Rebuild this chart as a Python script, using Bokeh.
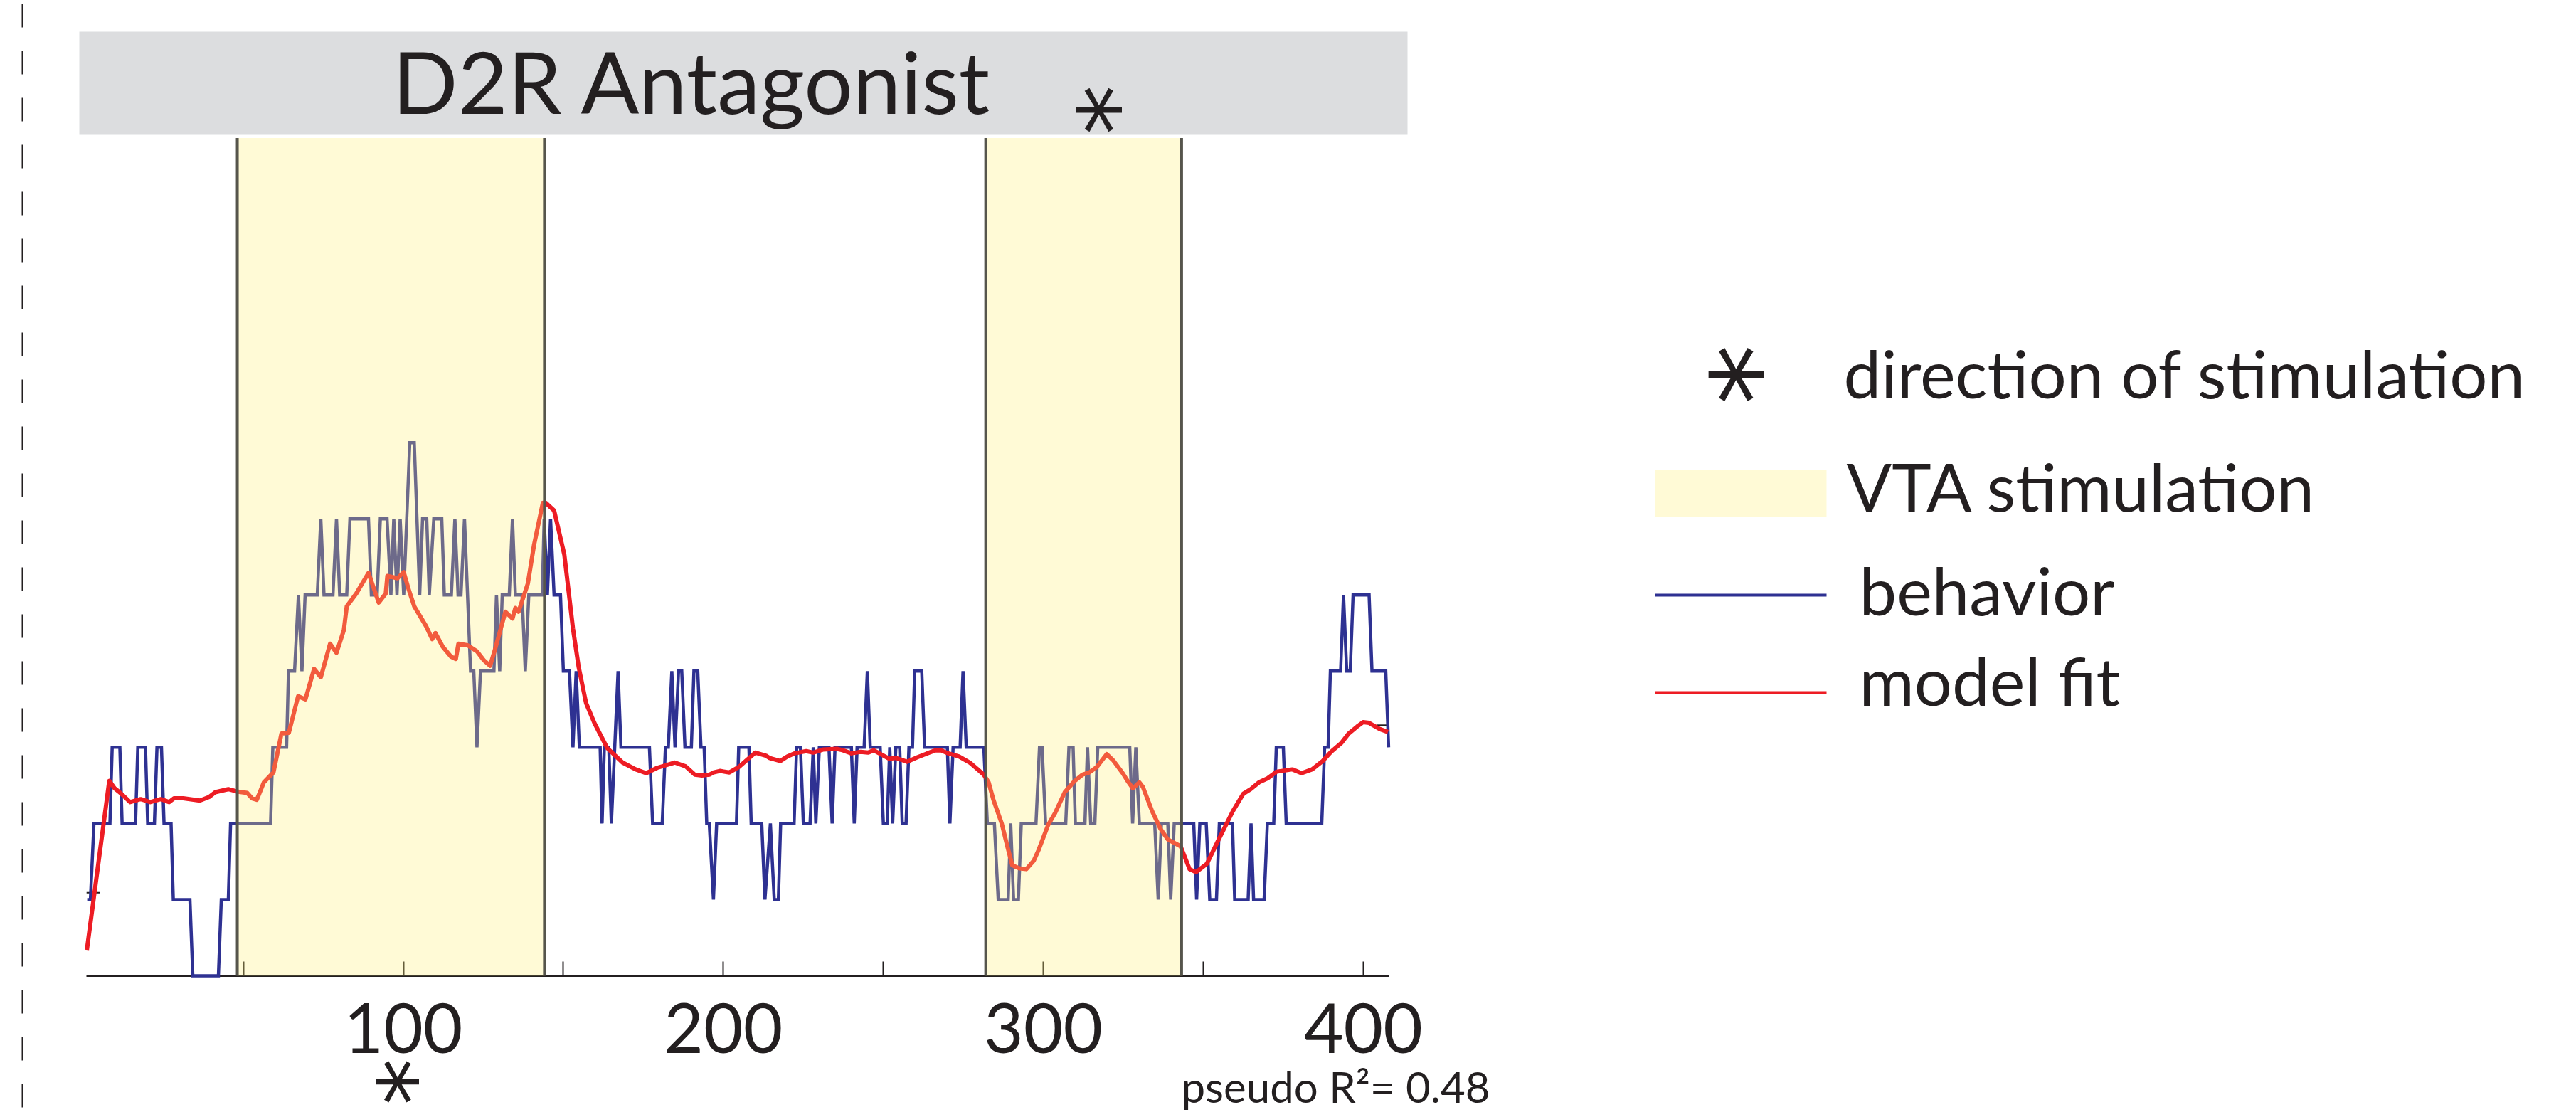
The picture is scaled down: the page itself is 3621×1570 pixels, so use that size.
import math
from bokeh.plotting import figure
from bokeh.models import Range1d, FixedTicker, Label, LinearAxis, CustomJSTickFormatter
from bokeh.embed import file_html
from bokeh.resources import INLINE

# ---------------- data ----------------
TITLE = "D2R Antagonist"

BEHAVIOR_X = [1.2, 2.2, 3.3, 8.3, 9.0, 11.4, 12.1, 16.3, 17.0, 19.4, 20.1, 22.2, 23.0, 24.4, 25.2, 27.4,
              28.1, 33.3, 34.2, 42.2, 43.1, 45.3, 46.0, 58.5, 59.2, 63.5, 64.1, 66.0, 67.2, 68.3, 69.3,
              73.1, 74.2, 75.2, 78.0, 79.1, 80.1, 82.3, 83.3, 89.1, 90.0, 91.8, 92.8, 94.9, 96.1, 97.0,
              98.0, 99.0, 100.1, 102.0, 103.4, 105.1, 106.0, 107.3, 108.1, 109.5, 112.0, 112.8, 115.0,
              116.1, 117.1, 118.0, 119.1, 121.0, 122.0, 123.0, 124.1, 128.3, 129.1, 130.1, 130.9, 133.1,
              134.1, 135.0, 137.1, 138.1, 139.2, 143.4, 144.0, 145.0, 146.0, 147.1, 149.1, 150.0, 151.9,
              153.0, 154.0, 155.0, 161.5, 162.1, 162.8, 164.2, 165.0, 167.1, 168.0, 176.9, 177.9, 180.9,
              181.9, 182.8, 183.9, 184.9, 186.0, 187.0, 188.0, 190.0, 190.8, 192.0, 193.0, 194.0, 194.8,
              195.6, 196.9, 197.9, 204.1, 204.8, 208.0, 208.7, 212.0, 213.0, 214.7, 215.9, 217.2, 217.9,
              222.1, 222.9, 224.1, 225.0, 227.1, 228.1, 228.9, 230.0, 233.0, 234.0, 234.9, 240.0, 240.9,
              241.8, 244.0, 245.0, 245.9, 249.0, 250.0, 251.2, 252.0, 252.9, 253.9, 255.1, 255.9, 257.1,
              258.0, 259.1, 259.8, 262.0, 262.9, 270.0, 270.8, 271.8, 274.0, 274.9, 275.9, 281.4, 282.5,
              284.7, 285.9, 289.0, 289.8, 290.7, 292.2, 293.1, 297.7, 298.8, 299.6, 300.7, 307.0, 308.0,
              309.3, 310.0, 313.0, 313.8, 314.8, 316.1, 317.0, 327.0, 327.9, 328.9, 330.0, 334.8, 335.9,
              336.9, 338.9, 339.8, 340.9, 347.0, 347.9, 348.9, 350.9, 352.0, 354.1, 355.0, 359.1, 359.8,
              364.0, 364.9, 365.7, 369.0, 370.0, 372.0, 372.8, 375.0, 375.9, 387.0, 387.9, 389.0, 389.7,
              392.9, 393.8, 394.8, 395.9, 396.8, 401.8, 402.7, 407.0, 407.9]
BEHAVIOR_Y = [1, 1, 2, 2, 3, 3, 2, 2, 3, 3, 2, 2, 3, 3, 2, 2,
              1, 1, 0, 0, 1, 1, 2, 2, 3, 3, 4, 4, 5, 4, 5,
              5, 6, 5, 5, 6, 5, 5, 6, 6, 5, 5, 6, 6, 5, 6,
              5, 6, 5, 7, 7, 5, 6, 6, 5, 6, 6, 5, 5,
              6, 5, 5, 6, 4, 4, 3, 4, 4, 5, 4, 5, 5,
              6, 5, 5, 4, 5, 5, 6, 5, 6, 5, 5, 4, 4,
              3, 4, 3, 3, 2, 3, 3, 2, 4, 3, 3, 2, 2,
              3, 3, 4, 3, 4, 4, 3, 3, 4, 4, 3, 3, 2,
              2, 1, 2, 2, 3, 3, 2, 2, 1, 2, 1, 1, 2,
              2, 3, 3, 2, 2, 3, 2, 3, 3, 2, 3, 3, 2,
              3, 3, 4, 3, 3, 2, 2, 3, 2, 3, 3, 2, 2,
              3, 3, 4, 4, 3, 3, 2, 3, 3, 4, 3, 3, 2,
              2, 1, 1, 2, 1, 1, 2, 2, 3, 3, 2, 2, 3,
              3, 2, 2, 3, 2, 2, 3, 3, 2, 3, 2, 2, 1,
              2, 2, 1, 2, 2, 1, 2, 2, 1, 1, 2, 2, 1,
              1, 2, 1, 1, 2, 2, 3, 3, 2, 2, 3, 3, 4,
              4, 5, 4, 4, 5, 5, 4, 4, 3]

MODEL_X = [1.1, 8.1, 9.8, 11.6, 14.6, 17.9, 20.9, 24.2, 26.8, 28.3, 31.2, 36.4, 39.4, 41.2, 45.3, 47.9,
           51.2, 52.7, 54.2, 56.4, 59.4, 61.9, 64.2, 67.1, 69.4, 72.1, 74.2, 77.1, 79.1, 81.4, 82.3,
           85.3, 89.1, 92.3, 94.5, 95.0, 98.2, 100.1, 101.6, 103.4, 107.1, 109.0, 110.0, 112.3, 114.9,
           116.4, 117.2, 120.1, 123.0, 125.2, 127.1, 128.6, 131.9, 134.1, 135.0, 136.0, 138.9, 140.8,
           143.6, 144.5, 147.1, 150.3, 153.0, 154.8, 157.1, 159.7, 163.7, 168.5, 172.6, 175.9, 179.3,
           184.8, 188.2, 191.1, 193.3, 195.6, 197.0, 198.9, 201.9, 204.8, 210.0, 213.3, 214.4, 217.8,
           220.0, 222.2, 225.9, 228.1, 231.1, 235.5, 237.4, 240.0, 242.9, 245.2, 247.0, 251.8, 254.0,
           257.4, 260.7, 263.7, 266.3, 268.1, 270.3, 273.6, 277.0, 279.2, 281.4, 282.9, 284.4, 287.0,
           288.8, 290.3, 292.5, 294.7, 297.0, 298.5, 301.5, 303.7, 306.7, 309.6, 312.2, 314.4, 316.7,
           319.8, 321.8, 324.8, 326.6, 328.0, 330.0, 331.1, 334.0, 336.6, 338.9, 342.9, 345.7, 347.7,
           351.1, 354.8, 359.2, 362.5, 364.8, 367.4, 370.0, 372.9, 377.8, 380.7, 384.0, 387.3, 389.9,
           393.2, 395.4, 398.0, 399.9, 401.8, 405.1, 407.7]
MODEL_Y = [0.34, 2.56, 2.46, 2.40, 2.28, 2.32, 2.28, 2.32, 2.28, 2.33, 2.33, 2.30, 2.35, 2.41, 2.45, 2.42,
           2.40, 2.33, 2.31, 2.54, 2.67, 3.18, 3.19, 3.67, 3.63, 4.03, 3.92, 4.36, 4.24, 4.54, 4.85,
           5.02, 5.29, 4.90, 5.02, 5.25, 5.22, 5.30, 5.08, 4.85, 4.59, 4.42, 4.50, 4.32, 4.19,
           4.16, 4.36, 4.34, 4.26, 4.14, 4.07, 4.28, 4.78, 4.69, 4.83, 4.78, 5.15, 5.65,
           6.21, 6.21, 6.11, 5.53, 4.56, 4.05, 3.58, 3.32, 2.99, 2.80, 2.71, 2.66, 2.73,
           2.80, 2.75, 2.64, 2.63, 2.64, 2.67, 2.69, 2.67, 2.74, 2.93, 2.89, 2.86, 2.82,
           2.88, 2.92, 2.95, 2.93, 2.97, 2.98, 2.96, 2.92, 2.94, 2.93, 2.96, 2.85, 2.86,
           2.81, 2.87, 2.92, 2.96, 2.96, 2.92, 2.88, 2.80, 2.72, 2.64, 2.54, 2.31, 2.00,
           1.69, 1.45, 1.41, 1.40, 1.51, 1.65, 1.98, 2.14, 2.41, 2.55, 2.64, 2.67, 2.74,
           2.91, 2.83, 2.66, 2.54, 2.46, 2.54, 2.48, 2.16, 1.93, 1.79, 1.70, 1.40, 1.36,
           1.47, 1.79, 2.16, 2.39, 2.45, 2.54, 2.59, 2.68, 2.71, 2.66, 2.71, 2.82, 2.94,
           3.06, 3.18, 3.27, 3.33, 3.32, 3.24, 3.20]

STIM_START = [48.1, 282.0]
STIM_END = [144.1, 343.2]
STIM_TOP = 11
STIM_DIRECTION_X = [317.1, 97.9]

X_TICKS = [100, 200, 300, 400]
X_MINOR_TICKS = [50, 150, 250, 350]
X_LIMITS = (1, 408)
LEFT_AXIS_TICK = 1.09
RIGHT_AXIS_TICK = 3.29

LEGEND_TEXT = ["direction of stimulation", "VTA stimulation", "behavior", "model fit"]
PSEUDO_R2 = "0.48"

# ---------------- style ----------------
W, H = 3621, 1570
AXIS_PANEL = 199
X0_PX, PX_PER_X = 116.7, 4.498
Y0_PX, PX_PER_Y = 1371.0, 107.05
FONT = "Lato"
STAR_FONT = "DejaVu Sans"
INK = "#231f20"
BLUE = "#2e3192"
RED = "#ed1c24"
BAND = "#ffee76"
BAND_ALPHA = 0.3
BAND_EDGE = "#56554c"
TITLE_BOX = "#dcdddf"
BASE_SHIFT = 0.40      # label anchor sits this many em above the text baseline
STAR_SHIFT = 0.18      # rotated asterisk ink offset (em)


def dx(px):
    return (px - X0_PX) / PX_PER_X


def dy(py):
    return (Y0_PX - py) / PX_PER_Y


p = figure(width=W, height=H, output_backend="svg", toolbar_location=None,
           x_range=Range1d(dx(0), dx(W)), y_range=Range1d(dy(Y0_PX), dy(0)),
           y_axis_location=None, min_border=0, min_border_bottom=AXIS_PANEL,
           outline_line_color=None, background_fill_color="white", border_fill_color="white")
p.grid.visible = False

# main x axis
ax = p.xaxis[0]
ax.ticker = FixedTicker(ticks=X_TICKS, minor_ticks=X_MINOR_TICKS)
ax.bounds = X_LIMITS
ax.axis_line_color = INK
ax.axis_line_width = 3
ax.major_tick_in = 20
ax.major_tick_out = 0
ax.minor_tick_in = 20
ax.minor_tick_out = 0
ax.major_tick_line_color = INK
ax.minor_tick_line_color = INK
ax.major_tick_line_width = 2
ax.minor_tick_line_width = 2
ax.major_label_text_font = FONT
ax.major_label_text_font_size = "96px"
ax.major_label_text_color = INK
ax.major_label_standoff = 38

# asterisk under the axis (direction of stimulation)
STAR_SIZE = 132
star_ax = LinearAxis(ticker=FixedTicker(ticks=[STIM_DIRECTION_X[1] + STAR_SHIFT * STAR_SIZE / PX_PER_X],
                                        minor_ticks=[]),
                     formatter=CustomJSTickFormatter(code="return '*'"),
                     axis_line_color=None, major_tick_line_color=None, minor_tick_line_color=None,
                     major_tick_in=0, major_tick_out=0, minor_tick_in=0, minor_tick_out=0,
                     major_label_orientation=math.pi / 2, major_label_text_font=STAR_FONT,
                     major_label_text_font_size=f"{STAR_SIZE}px", major_label_text_color=INK,
                     major_label_standoff=5)
p.add_layout(star_ax, "below")

# pseudo R^2 text + the dashed page line (as a long minor tick)
r2_ax = LinearAxis(ticker=FixedTicker(ticks=[dx(1877)], minor_ticks=[dx(31)]),
                   formatter=CustomJSTickFormatter(args=dict(txt="pseudo R\u00b2= " + PSEUDO_R2),
                                                   code="return txt"),
                   axis_line_color=None, major_tick_line_color=None,
                   major_tick_in=0, major_tick_out=0, minor_tick_in=1700, minor_tick_out=0,
                   minor_tick_line_color=INK, minor_tick_line_width=2, minor_tick_line_dash="33 33",
                   major_label_text_font=FONT, major_label_text_font_size="60px",
                   major_label_text_color=INK, major_label_standoff=-66)
p.add_layout(r2_ax, "below")

# small axis ticks of the two y axes
p.segment(x0=[X_LIMITS[0], X_LIMITS[1] - 3.8], x1=[X_LIMITS[0] + 4.2, X_LIMITS[1]],
          y0=[LEFT_AXIS_TICK, RIGHT_AXIS_TICK], y1=[LEFT_AXIS_TICK, RIGHT_AXIS_TICK],
          line_color=INK, line_width=2)

# title box
p.quad(left=[dx(111)], right=[dx(1978)], bottom=[dy(189)], top=[dy(44)],
       fill_color=TITLE_BOX, line_color=None)
p.add_layout(Label(x=dx(551), y=dy(161 - BASE_SHIFT * 121), text=TITLE, text_font=FONT,
                   text_font_size="121px", text_color=INK, text_align="left", text_baseline="alphabetic"))

# data
p.line(BEHAVIOR_X, BEHAVIOR_Y, line_color=BLUE, line_width=4.5, line_join="miter", level="overlay")
p.line(MODEL_X, MODEL_Y, line_color=RED, line_width=6, line_join="round", level="overlay")

# stimulation bands (overlay)
n = len(STIM_START)
p.quad(left=STIM_START, right=STIM_END, bottom=[0] * n, top=[STIM_TOP] * n,
       fill_color=BAND, fill_alpha=BAND_ALPHA, line_color=None, level="overlay")
p.segment(x0=STIM_START + STIM_END, x1=STIM_START + STIM_END,
          y0=[0] * (2 * n), y1=[STIM_TOP] * (2 * n), line_color=BAND_EDGE, line_width=4, level="overlay")

# asterisk above the second band
p.add_layout(Label(x=STIM_DIRECTION_X[0] + STAR_SHIFT * 140 / PX_PER_X, y=dy(154), text="*",
                   text_font=STAR_FONT, text_font_size="140px", text_color=INK, angle=math.pi / 2,
                   text_align="center", text_baseline="middle"))

# legend
p.add_layout(Label(x=dx(2438 + STAR_SHIFT * 170), y=dy(526), text="*", text_font=STAR_FONT,
                   text_font_size="170px", text_color=INK, angle=math.pi / 2,
                   text_align="center", text_baseline="middle"))
p.quad(left=[dx(2326)], right=[dx(2567)], bottom=[dy(726)], top=[dy(660)],
       fill_color=BAND, fill_alpha=BAND_ALPHA, line_color=None)
p.segment(x0=[dx(2326)], x1=[dx(2567)], y0=[dy(836)], y1=[dy(836)], line_color=BLUE, line_width=4)
p.segment(x0=[dx(2326)], x1=[dx(2567)], y0=[dy(973)], y1=[dy(973)], line_color=RED, line_width=4)
for txt, lx, ly in zip(LEGEND_TEXT, [2591, 2595, 2613, 2613], [561, 720, 866, 993]):
    p.add_layout(Label(x=dx(lx), y=dy(ly - BASE_SHIFT * 94), text=txt, text_font=FONT,
                       text_font_size="94px", text_color=INK, text_baseline="alphabetic"))

open("out.html", "w").write(file_html(p, INLINE))
